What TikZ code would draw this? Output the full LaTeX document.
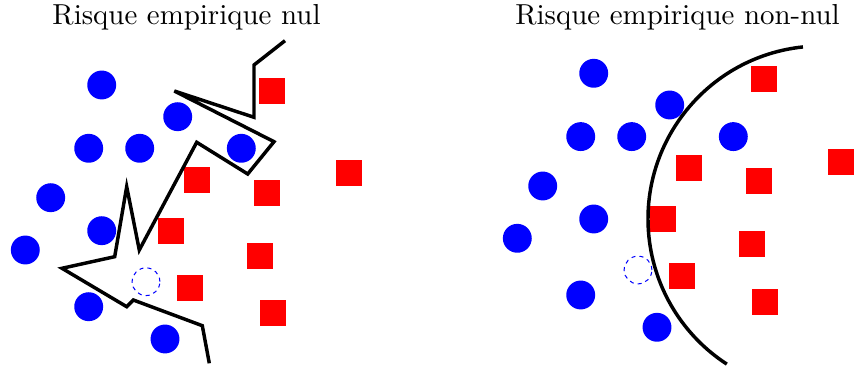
\documentclass[tikz,border=0pt]{standalone}
\usepackage{tikz}
\usetikzlibrary{positioning}
\tikzset{
  posnode/.style={circle, fill=blue, inner sep=0pt, minimum size=10pt},
  negnode/.style={rectangle, fill=red, inner sep=0pt, minimum size=9pt},
  testnode/.style={circle, draw=blue, dashed, line width=0.35pt,
    dash pattern=on 1.4pt off 1.4pt, inner sep=0pt, minimum size=9.6pt},
  boundary/.style={draw=black, line width=1.2pt},
  title/.style={anchor=base, font=\normalsize}
}

\begin{document}
\begin{tikzpicture}[x=0.346pt, y=-0.346pt]
\useasboundingbox (0,0) rectangle (854,371);

% titles
\node[title] (tleft)  at (186.5,25) {Risque empirique nul};
\node[title] (tright) at (677.5,25) {Risque empirique non-nul};

% same points in both panels, right one shifted
\foreach \p/\dx/\dy in {l/0/0, r/492/-11.7} {
  \foreach \x/\y [count=\i] in {101.7/85, 177.7/116.7, 88.7/148.3, 139.7/148.3,
      241.3/148.3, 50.7/197.7, 101.7/230.7, 25.3/250, 88.7/306.7, 165/339} {
    \node[posnode] (\p pos\i) at (\x+\dx,\y+\dy) {};
  }
  \foreach \x/\y [count=\i] in {271.7/91, 349/173.3, 196.7/180, 266.7/192.7,
      171.3/230.7, 260/256, 190.3/287.7, 273/313.3} {
    \node[negnode] (\p neg\i) at (\x+\dx,\y+\dy) {};
  }
  \node[testnode] (\p test) at (146+\dx,281.7+\dy) {};
}

% overfitted frontier
\draw[boundary] (285,40.7) -- (254,65) -- (254,117.3) -- (174.3,91)
  -- (274,141.7) -- (247.7,174) -- (196.7,142.3) -- (139.3,250)
  -- (126.7,186.7) -- (114.7,256.7) -- (62,268.3) -- (126.7,306.7)
  -- (133.3,300) -- (202.3,325.7) -- (209.3,363.3);

% smooth frontier
\coordinate (rc) at (821,219);
\draw[boundary] (rc) ++(-96:173) arc[start angle=-96, end angle=-237, radius=173];

\end{tikzpicture}
\end{document}
